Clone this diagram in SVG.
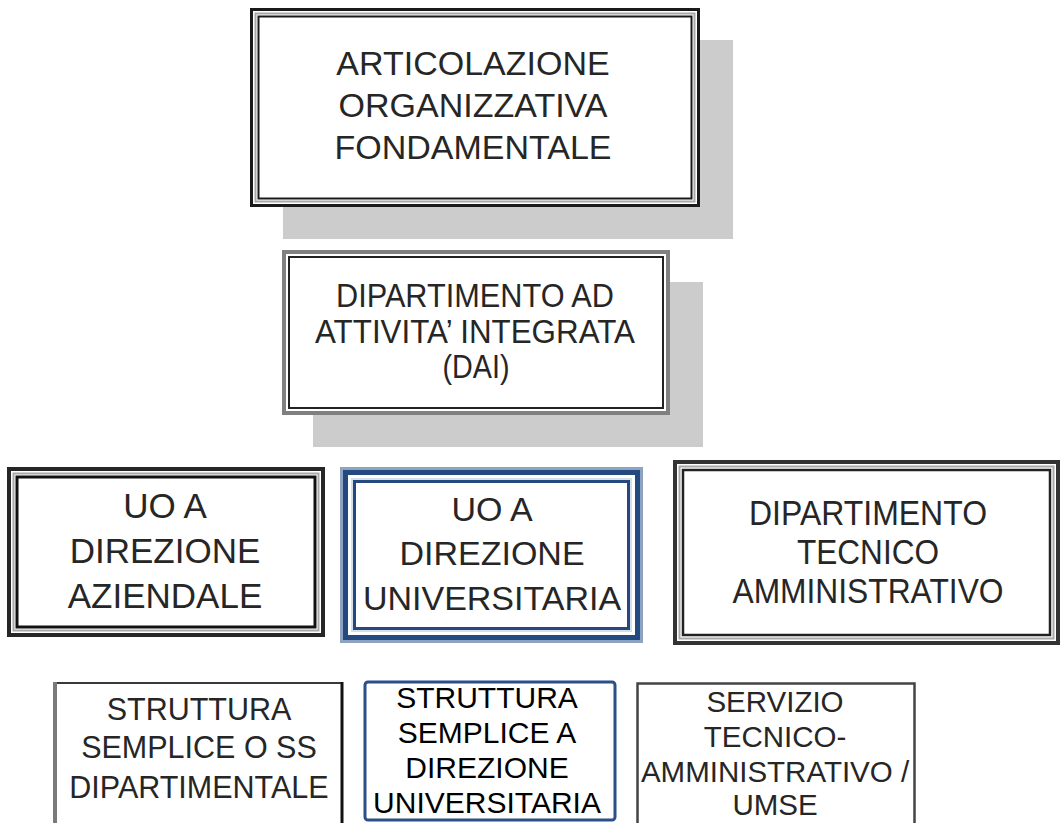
<svg xmlns="http://www.w3.org/2000/svg" width="1062" height="823" viewBox="0 0 1062 823">
  <style>
    text { font-family: "Liberation Sans", Arial, sans-serif; text-anchor: middle; }
    .t { fill: #262626; }
    .tk { fill: #000000; }
    .shadow { fill: #cccccc; }
    .bg { fill: #ffffff; }
    .none { fill: none; }
  </style>
  <rect x="0" y="0" width="1062" height="823" fill="#ffffff"/>
  <g id="connectors"></g>

  <g id="node-articolazione">
    <rect class="shadow" x="283" y="40" width="450" height="199"/>
    <rect class="bg" x="251.5" y="9.5" width="447" height="196" stroke="#1a1a1a" stroke-width="3"/>
    <rect class="none" x="255.5" y="13.5" width="439" height="188" stroke="#a8a8a8" stroke-width="2"/>
    <rect class="none" x="258.5" y="16.5" width="433" height="182" stroke="#1a1a1a" stroke-width="2"/>
    <text class="t" x="473" y="75" font-size="34">ARTICOLAZIONE</text>
    <text class="t" x="473" y="117" font-size="34">ORGANIZZATIVA</text>
    <text class="t" x="473" y="159" font-size="34">FONDAMENTALE</text>
  </g>

  <g id="node-dai">
    <rect class="shadow" x="313" y="282" width="390" height="165"/>
    <rect class="bg" x="284" y="252" width="384" height="161" stroke="#808080" stroke-width="4"/>
    <rect class="none" x="289" y="257" width="374" height="151" stroke="#222222" stroke-width="2"/>
    <text class="t" x="475" y="307" font-size="34" textLength="278" lengthAdjust="spacingAndGlyphs">DIPARTIMENTO AD</text>
    <text class="t" x="475" y="343" font-size="34" textLength="320" lengthAdjust="spacingAndGlyphs">ATTIVITA’ INTEGRATA</text>
    <text class="t" x="476" y="378" font-size="34" textLength="67" lengthAdjust="spacingAndGlyphs">(DAI)</text>
  </g>

  <g id="node-uo-aziendale">
    <rect class="bg" x="9" y="469" width="314" height="166" stroke="#262626" stroke-width="4"/>
    <rect class="none" x="13.5" y="473.5" width="305" height="157" stroke="#a8a8a8" stroke-width="2"/>
    <rect class="none" x="17" y="477" width="298" height="150" stroke="#111111" stroke-width="3"/>
    <text class="t" x="165" y="518" font-size="35">UO A</text>
    <text class="t" x="165" y="563" font-size="35">DIREZIONE</text>
    <text class="t" x="165" y="608" font-size="35">AZIENDALE</text>
  </g>

  <g id="node-uo-universitaria">
    <rect class="bg" x="341.5" y="468.5" width="300" height="173" stroke="#8ea3c2" stroke-width="3"/>
    <rect class="none" x="345.5" y="472.5" width="292" height="165" stroke="#24497f" stroke-width="5"/>
    <rect class="none" x="352" y="479" width="279" height="152" stroke="#d6deea" stroke-width="2"/>
    <rect class="none" x="354.5" y="481.5" width="274" height="147" stroke="#24497f" stroke-width="3"/>
    <text class="t" x="492" y="521" font-size="34">UO A</text>
    <text class="t" x="492" y="565" font-size="34">DIREZIONE</text>
    <text class="t" x="492" y="610" font-size="34">UNIVERSITARIA</text>
  </g>

  <g id="node-dip-tecnico">
    <rect class="bg" x="675" y="462" width="383" height="181" stroke="#333333" stroke-width="4"/>
    <rect class="none" x="679.5" y="466.5" width="374" height="172" stroke="#a8a8a8" stroke-width="2"/>
    <rect class="none" x="683" y="470" width="367" height="165" stroke="#222222" stroke-width="2.5"/>
    <text class="t" x="868" y="525" font-size="35" textLength="238" lengthAdjust="spacingAndGlyphs">DIPARTIMENTO</text>
    <text class="t" x="868" y="564" font-size="35" textLength="142" lengthAdjust="spacingAndGlyphs">TECNICO</text>
    <text class="t" x="868" y="603" font-size="35" textLength="271" lengthAdjust="spacingAndGlyphs">AMMINISTRATIVO</text>
  </g>

  <g id="node-ss-dipartimentale">
    <rect class="bg" x="55" y="683" width="287" height="160" stroke="#3a3a3a" stroke-width="2"/>
    <line x1="55" y1="682" x2="55" y2="823" stroke="#7a7a7a" stroke-width="4"/>
    <line x1="342" y1="682" x2="342" y2="823" stroke="#111111" stroke-width="3"/>
    <text class="t" x="199" y="720" font-size="30.5">STRUTTURA</text>
    <text class="t" x="199" y="758" font-size="30.5">SEMPLICE O SS</text>
    <text class="t" x="199" y="798" font-size="30.5">DIPARTIMENTALE</text>
  </g>

  <g id="node-ss-universitaria">
    <rect class="bg" x="365" y="682" width="250" height="138" rx="3" stroke="#2b4f87" stroke-width="3"/>
    <text class="tk" x="487" y="708" font-size="30">STRUTTURA</text>
    <text class="tk" x="487" y="743" font-size="30">SEMPLICE A</text>
    <text class="tk" x="487" y="778" font-size="30">DIREZIONE</text>
    <text class="tk" x="487" y="813" font-size="30">UNIVERSITARIA</text>
  </g>

  <g id="node-servizio">
    <rect class="bg" x="637.5" y="683.5" width="277" height="160" stroke="#444444" stroke-width="2.5"/>
    <text class="t" x="775" y="712" font-size="29.5">SERVIZIO</text>
    <text class="t" x="775" y="747" font-size="29.5">TECNICO-</text>
    <text class="t" x="775" y="782" font-size="29.5">AMMINISTRATIVO /</text>
    <text class="t" x="775" y="815" font-size="29.5">UMSE</text>
  </g>
</svg>
